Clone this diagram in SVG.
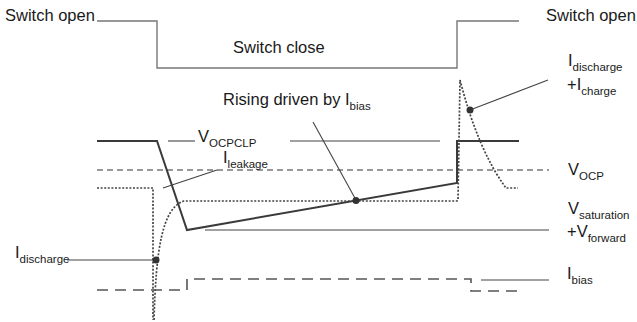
<svg xmlns="http://www.w3.org/2000/svg" width="637" height="322" viewBox="0 0 637 322">
  <style>
    text { font-family: "Liberation Sans", Arial, sans-serif; font-size: 16.5px; fill: #1a1a1a; }
    .sub { font-size: 11.5px; }
    .switch { fill: none; stroke: #777; stroke-width: 1.4; }
    .vout { fill: none; stroke: #3a3a3a; stroke-width: 2; stroke-linejoin: miter; }
    .thin { fill: none; stroke: #444; stroke-width: 1.1; }
    .ref { fill: none; stroke: #333; stroke-width: 1.1; stroke-dasharray: 6 4; }
    .cur { fill: none; stroke: #444; stroke-width: 1.7; stroke-dasharray: 2 1.6; }
    .bias { fill: none; stroke: #555; stroke-width: 1.6; stroke-dasharray: 11 7; }
    .dot { fill: #333; }
  </style>

  <!-- switch state -->
  <g id="switch-state">
    <polyline class="switch" points="97,21 157,21 157,68 457,68 457,21 519,21"/>
    <text x="5" y="20.5">Switch open</text>
    <text x="233" y="53">Switch close</text>
    <text x="546" y="20.5">Switch open</text>
  </g>

  <!-- reference levels -->
  <g id="v-ocp-level">
    <line class="ref" x1="97" y1="170" x2="549" y2="170"/>
    <text x="568" y="175">V<tspan class="sub" dy="5">OCP</tspan></text>
  </g>
  <g id="v-ocpclp-level">
    <line class="thin" x1="168" y1="141" x2="195" y2="141"/>
    <line class="thin" x1="290" y1="141" x2="440" y2="141"/>
    <text x="198" y="142">V<tspan class="sub" dy="5">OCPCLP</tspan></text>
  </g>
  <g id="v-sat-level">
    <line class="thin" x1="205" y1="230" x2="549" y2="230"/>
    <text x="568" y="214">V<tspan class="sub" dy="5">saturation</tspan></text>
    <text x="567" y="237">+V<tspan class="sub" dy="5">forward</tspan></text>
  </g>

  <!-- voltage waveform -->
  <g id="voltage">
    <polyline class="vout" points="97,141 157,141 187,230 457,183 457,141 519,141"/>
  </g>

  <!-- current waveform -->
  <g id="current">
    <polyline class="cur" points="97,188 153,188 153,320"/>
    <path class="cur" d="M154,320 C156,250 162,208 184,201 L457,201 L458,200 L460,80 Q478,150 506,188 L518,188"/>
  </g>

  <!-- bias current -->
  <g id="bias-current">
    <polyline class="bias" points="97,290 187,290 187,279 471,279 471,291 519,291"/>
    <text x="567" y="279">I<tspan class="sub" dy="5">bias</tspan></text>
  </g>

  <!-- annotations -->
  <g id="label-leakage">
    <text x="223" y="163">I<tspan class="sub" dy="5">leakage</tspan></text>
  </g>
  <g id="label-rising">
    <text x="223" y="105">Rising driven by I<tspan class="sub" dy="5">bias</tspan></text>
  </g>
  <g id="label-discharge">
    <text x="15" y="258">I<tspan class="sub" dy="5">discharge</tspan></text>
  </g>
  <g id="label-discharge-charge">
    <text x="568" y="66">I<tspan class="sub" dy="5">discharge</tspan></text>
    <text x="567" y="90">+I<tspan class="sub" dy="5">charge</tspan></text>
  </g>

  <!-- leader lines -->
  <g id="connectors">
    <line class="thin" x1="163" y1="188" x2="217" y2="170"/>
    <line class="thin" x1="313" y1="122" x2="356" y2="200"/>
    <line class="thin" x1="67" y1="260" x2="156" y2="260"/>
    <line class="thin" x1="470" y1="110" x2="548" y2="80"/>
    <line class="thin" x1="481" y1="280" x2="549" y2="280"/>
    <circle class="dot" cx="356" cy="200.5" r="3.5"/>
    <circle class="dot" cx="156" cy="260" r="3.5"/>
    <circle class="dot" cx="470" cy="110" r="3.5"/>
  </g>
</svg>
